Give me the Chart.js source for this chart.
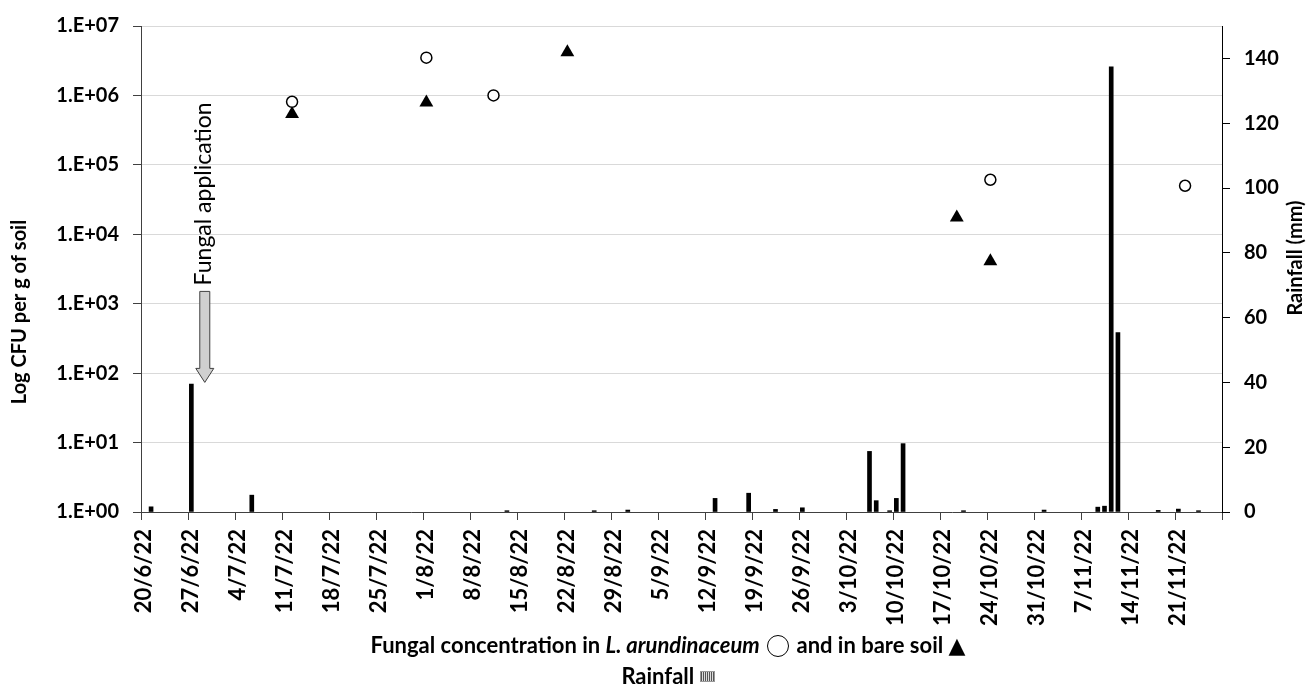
<!DOCTYPE html>
<html>
<head>
<meta charset="utf-8">
<script src="https://cdn.jsdelivr.net/npm/chart.js@4"></script>
<style>
body{margin:0;background:#fff;}
#wrap{position:relative;width:1312px;height:686px;}
.key{position:absolute;left:12px;width:1312px;text-align:center;font:bold 22px Lato,'DejaVu Sans',sans-serif;color:#000;line-height:26px;}
.circ{display:inline-block;width:20px;height:20px;border:1.3px solid #000;border-radius:50%;vertical-align:-4px;margin:0 2px;}
.hatch{display:inline-block;width:13px;height:9px;vertical-align:2px;border:1px solid #999;background:repeating-linear-gradient(90deg,#555 0 1px,#ddd 1px 2px);}
</style>
</head>
<body>
<div id="wrap">
<canvas id="chart" width="1312" height="686"></canvas>
<div class="key" style="top:632px">Fungal concentration in <i>L. arundinaceum</i> <span class="circ"></span> and in bare soil &#9650;</div>
<div class="key" style="top:663px">Rainfall <span class="hatch"></span></div>
</div>
<script>
// day 0 = 20/6/22, axis runs to 28/11/22
const NUM_DAYS=161;
const APPLICATION_DATE='29/6/22';

const rainDates=['21/6/22','27/6/22','6/7/22','13/8/22','26/8/22','31/8/22','13/9/22','18/9/22','22/9/22','26/9/22','6/10/22','7/10/22','9/10/22','10/10/22','11/10/22','20/10/22','1/11/22','9/11/22','10/11/22','11/11/22','12/11/22','18/11/22','21/11/22','24/11/22'];
const rainMm=[1.6,39.5,5.2,0.4,0.4,0.6,4.2,5.8,0.8,1.3,18.7,3.5,0.4,4.2,21.1,0.4,0.6,1.5,1.8,137.4,55.4,0.5,0.9,0.4];

const grassDates=['12/7/22','1/8/22','11/8/22','24/10/22','22/11/22'];
const grassCfu=[8.1e5,3.5e6,1.0e6,6.1e4,5.0e4];

const soilDates=['12/7/22','1/8/22','22/8/22','19/10/22','24/10/22'];
const soilCfu=[5.4e5,7.9e5,4.2e6,1.75e4,4.1e3];

const logTicks=[1,10,100,1e3,1e4,1e5,1e6,1e7];
const rainTicks=[0,20,40,60,80,100,120,140];
const weekTicks=[0,7,14,21,28,35,42,49,56,63,70,77,84,91,98,105,112,119,126,133,140,147,154,161];

const FONT='Lato, "DejaVu Sans", sans-serif';
Chart.defaults.font.family=FONT;
Chart.defaults.color='#000';

function dayIndex(s){
  const [d,m,y]=s.split('/').map(Number);
  return Math.round((Date.UTC(2000+y,m-1,d)-Date.UTC(2022,5,20))/864e5);
}
function dayLabel(i){
  const dt=new Date(Date.UTC(2022,5,20+i));
  return `${dt.getUTCDate()}/${dt.getUTCMonth()+1}/22`;
}
const toPoints=(dates,vals)=>dates.map((d,i)=>({x:dayIndex(d)+0.5,y:vals[i]}));

function rotatedText(ctx,text,x,y,align){
  ctx.save();
  ctx.translate(x,y);
  ctx.rotate(-Math.PI/2);
  ctx.textAlign=align;
  ctx.textBaseline='middle';
  ctx.fillText(text,0,0);
  ctx.restore();
}

const decorPlugin={
  id:'decor',
  afterDatasetsDraw(chart){
    const {ctx,scales}=chart;
    const ax=scales.x.getPixelForValue(dayIndex(APPLICATION_DATE)+0.5);
    const tip=scales.y2.getPixelForValue(40);
    const headTop=tip-14, bodyTop=tip-91;
    ctx.save();
    ctx.beginPath();
    ctx.moveTo(ax-5,bodyTop);
    ctx.lineTo(ax+5,bodyTop);
    ctx.lineTo(ax+5,headTop);
    ctx.lineTo(ax+9,headTop);
    ctx.lineTo(ax,tip);
    ctx.lineTo(ax-9,headTop);
    ctx.lineTo(ax-5,headTop);
    ctx.closePath();
    ctx.fillStyle='#d0d0d0';
    ctx.fill();
    ctx.strokeStyle='#404040';
    ctx.lineWidth=1;
    ctx.stroke();
    ctx.fillStyle='#000';
    ctx.font='23px '+FONT;
    rotatedText(ctx,'Fungal application',ax-1,bodyTop-6,'left');
    ctx.restore();
  },
  afterDraw(chart){
    const {ctx,chartArea}=chart;
    ctx.save();
    ctx.fillStyle='#000';
    ctx.font='bold 20px '+FONT;
    rotatedText(ctx,'Log CFU per g of soil',chartArea.left-121,chartArea.top+286,'center');
    rotatedText(ctx,'Rainfall (mm)',chartArea.right+74,chartArea.top+232,'center');
    ctx.restore();
  }
};

new Chart(document.getElementById('chart'),{
  type:'bar',
  data:{datasets:[
    {type:'scatter',label:'L. arundinaceum',data:toPoints(grassDates,grassCfu),yAxisID:'y',
     pointStyle:'circle',pointRadius:5.5,pointBackgroundColor:'#fff',pointBorderColor:'#000',pointBorderWidth:1.5,order:0},
    {type:'scatter',label:'Bare soil',data:toPoints(soilDates,soilCfu),yAxisID:'y',
     pointStyle:'triangle',pointRadius:8,pointBackgroundColor:'#000',pointBorderColor:'#000',pointBorderWidth:0,order:1},
    {type:'bar',label:'Rainfall',data:toPoints(rainDates,rainMm),yAxisID:'y2',
     backgroundColor:'#000',barThickness:4,order:2}
  ]},
  options:{
    responsive:false,
    animation:false,
    devicePixelRatio:1,
    layout:{padding:{top:22,left:0,right:0,bottom:0}},
    plugins:{legend:{display:false},tooltip:{enabled:false}},
    scales:{
      x:{
        type:'linear',position:'bottom',min:0,max:NUM_DAYS,offset:false,
        grid:{display:true,drawOnChartArea:false,offset:false,tickLength:8,tickColor:'#404040'},
        border:{color:'#404040'},
        ticks:{autoSkip:false,maxRotation:90,minRotation:90,padding:9,labelOffset:3.4,
          font:{size:22,weight:'bold'},callback:v=>v<NUM_DAYS?dayLabel(v):''},
        afterBuildTicks(s){s.ticks=weekTicks.map(v=>({value:v}));},
        afterFit(s){s.height=174;}
      },
      y:{
        type:'logarithmic',position:'left',min:1,max:1e7,
        grid:{color:'#d9d9d9',tickColor:'#404040',tickLength:8},
        border:{color:'#404040'},
        ticks:{padding:14,font:{size:20,weight:'bold'},
          callback:v=>'1.E+'+String(Math.round(Math.log10(v))).padStart(2,'0')},
        afterBuildTicks(s){s.ticks=logTicks.map(v=>({value:v}));},
        afterFit(s){s.width=141;}
      },
      y2:{
        type:'linear',position:'right',min:0,max:150,
        grid:{drawOnChartArea:false,tickColor:'#000',tickLength:8},
        border:{color:'#000'},
        ticks:{padding:14,font:{size:20,weight:'bold'}},
        afterBuildTicks(s){s.ticks=rainTicks.map(v=>({value:v}));},
        afterFit(s){s.width=90;}
      }
    }
  },
  plugins:[decorPlugin]
});
</script>
</body>
</html>
